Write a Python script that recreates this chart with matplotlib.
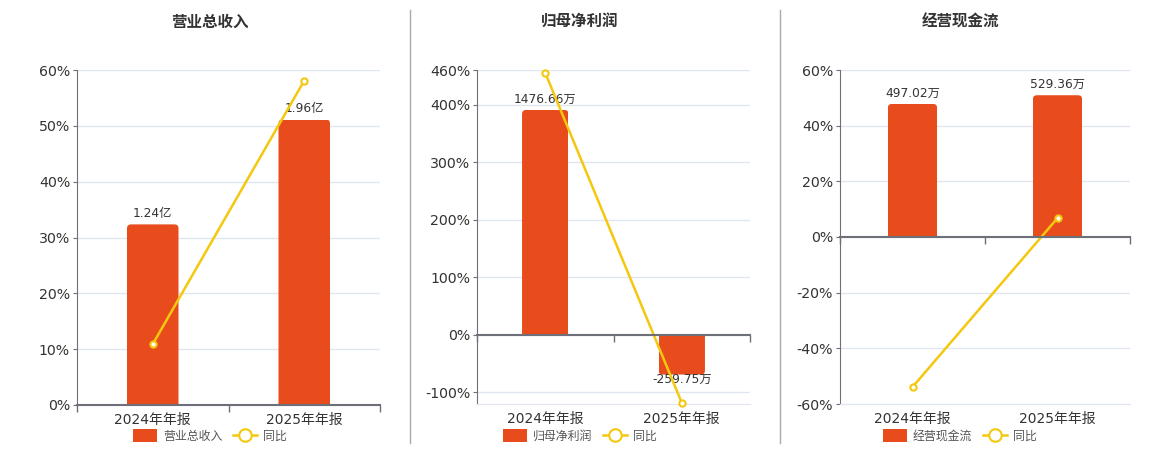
import matplotlib
matplotlib.use('Agg')
import matplotlib.pyplot as plt
from matplotlib.lines import Line2D
from matplotlib.patches import Patch, FancyBboxPatch

plt.rcParams['font.family'] = ['DejaVu Sans', 'Noto Sans CJK SC']

categories = ['2024年年报', '2025年年报']

revenue = [1.24, 1.96]
revenue_labels = ['1.24亿', '1.96亿']
revenue_yoy = [10.9, 58.1]

profit = [1476.66, -259.75]
profit_labels = ['1476.66万', '-259.75万']
profit_yoy = [455.0, -117.7]

cashflow = [497.02, 529.36]
cashflow_labels = ['497.02万', '529.36万']
cashflow_yoy = [-53.9, 6.8]

BAR = '#E84C1D'
LINE = '#F4C80E'
GRID = '#E0E6F1'
AXIS = '#6E7079'
TEXT = '#333333'

W, H = 1160, 450
fig = plt.figure(figsize=(W / 100, H / 100), dpi=100)


def px_rect(l, t, r, b):
    return [l / W, 1 - b / H, (r - l) / W, (b - t) / H]


panels = [
    dict(title='营业总收入', bars=revenue, labels=revenue_labels, yoy=revenue_yoy,
         box=(77, 70, 380, 405), pct_lim=(0, 60), pct_ticks=list(range(0, 61, 10)),
         bar_lim=(0, 2.30), cx=210),
    dict(title='归母净利润', bars=profit, labels=profit_labels, yoy=profit_yoy,
         box=(477, 70, 750, 404), pct_lim=(-120, 460), pct_ticks=[-100, 0, 100, 200, 300, 400, 460],
         bar_lim=(-453, 1739), cx=580),
    dict(title='经营现金流', bars=cashflow, labels=cashflow_labels, yoy=cashflow_yoy,
         box=(840, 70, 1130, 404), pct_lim=(-60, 60), pct_ticks=list(range(-60, 61, 20)),
         bar_lim=(-616, 623), cx=960),
]

x = list(range(len(categories)))
XLIM = (-0.5, 1.5)
RADIUS_PX = 4

for p in panels:
    rect = px_rect(*p['box'])
    l, t, r, b = p['box']

    # background: grid, y ticks, category labels
    ax_bg = fig.add_axes(rect, zorder=0)
    ax_bg.set_xlim(*XLIM)
    ax_bg.set_ylim(*p['pct_lim'])
    ax_bg.set_yticks(p['pct_ticks'], [f'{tk}%' for tk in p['pct_ticks']])
    ax_bg.yaxis.grid(True, color=GRID, lw=1)
    ax_bg.set_axisbelow(True)
    ax_bg.set_xticks(x, categories)
    ax_bg.tick_params(axis='x', length=0, pad=6, labelsize=10, labelcolor=TEXT)
    ax_bg.tick_params(axis='y', length=3, color=AXIS, labelsize=10.2, labelcolor=TEXT, pad=2)
    for s in ['top', 'right']:
        ax_bg.spines[s].set_visible(False)
    ax_bg.spines['left'].set_color(AXIS)
    ax_bg.spines['bottom'].set_color(GRID)

    # bars on their own scale
    ax_bar = fig.add_axes(rect, zorder=1)
    ax_bar.patch.set_visible(False)
    ax_bar.set_xlim(*XLIM)
    ax_bar.set_ylim(*p['bar_lim'])
    ax_bar.axis('off')
    bc = ax_bar.bar(x, p['bars'], width=0.34, color=BAR)

    px_x = (r - l) / (XLIM[1] - XLIM[0])
    px_y = (b - t) / (p['bar_lim'][1] - p['bar_lim'][0])
    r_x, r_y = RADIUS_PX / px_x, RADIUS_PX / px_y
    for patch, lab, val in zip(bc.patches, p['labels'], p['bars']):
        bx, bw = patch.get_x(), patch.get_width()
        y0 = min(patch.get_y(), patch.get_y() + patch.get_height())
        y1 = max(patch.get_y(), patch.get_y() + patch.get_height())
        # rounded at the free end, square at the base (clipped by the plain bar)
        if val >= 0:
            y0 -= r_y
        else:
            y1 += r_y
        patch.set_visible(False)
        fb = FancyBboxPatch((bx, y0), bw, y1 - y0,
                            boxstyle=f'round,pad=0,rounding_size={r_x}',
                            mutation_aspect=px_x / px_y, fc=BAR, ec='none')
        ax_bar.add_patch(fb)
        fb.set_clip_path(patch)
        if val >= 0:
            ax_bar.annotate(lab, (bx + bw / 2, val), xytext=(0, 3), textcoords='offset points',
                            ha='center', va='bottom', fontsize=8.8, color=TEXT)
        else:
            ax_bar.annotate(lab, (bx + bw / 2, val), xytext=(0, 1), textcoords='offset points',
                            ha='center', va='top', fontsize=8.8, color=TEXT)

    # yoy line + zero axis
    ax_top = fig.add_axes(rect, zorder=2)
    ax_top.patch.set_visible(False)
    ax_top.set_xlim(*XLIM)
    ax_top.set_ylim(*p['pct_lim'])
    for s in ['top', 'right', 'left']:
        ax_top.spines[s].set_visible(False)
    ax_top.spines['bottom'].set_position(('data', 0))
    ax_top.spines['bottom'].set_color(AXIS)
    ax_top.spines['bottom'].set_linewidth(1.5)
    ax_top.set_xticks([-0.5, 0.5, 1.5], ['', '', ''])
    ax_top.set_yticks([])
    ax_top.tick_params(axis='x', length=5, color=AXIS, width=1)
    ax_top.plot(x, p['yoy'], color=LINE, lw=1.8, marker='o', ms=4.5,
                mfc='white', mec=LINE, mew=1.5, clip_on=False)

    fig.text(p['cx'] / W, 1 - 22 / H, p['title'], ha='center', va='center',
             fontsize=11.2, fontweight='bold', color=TEXT)

    handles = [
        Patch(facecolor=BAR, label=p['title']),
        Line2D([], [], color=LINE, lw=1.8, marker='o', ms=9, mfc='white', mec=LINE, mew=1.5, label='同比'),
    ]
    fig.legend(handles=handles, loc='center', bbox_to_anchor=(p['cx'] / W, 1 - 436 / H), ncol=2,
               frameon=False, fontsize=8.6, handlelength=2.0, handleheight=1.2, columnspacing=0.9,
               handletextpad=0.5, labelcolor='#555555')

for xd in [410, 780]:
    fig.add_artist(Line2D([xd / W, xd / W], [1 - 10 / H, 1 - 443 / H], color='#AAAAAA', lw=1,
                          transform=fig.transFigure))

fig.savefig('out.png', dpi=100)
